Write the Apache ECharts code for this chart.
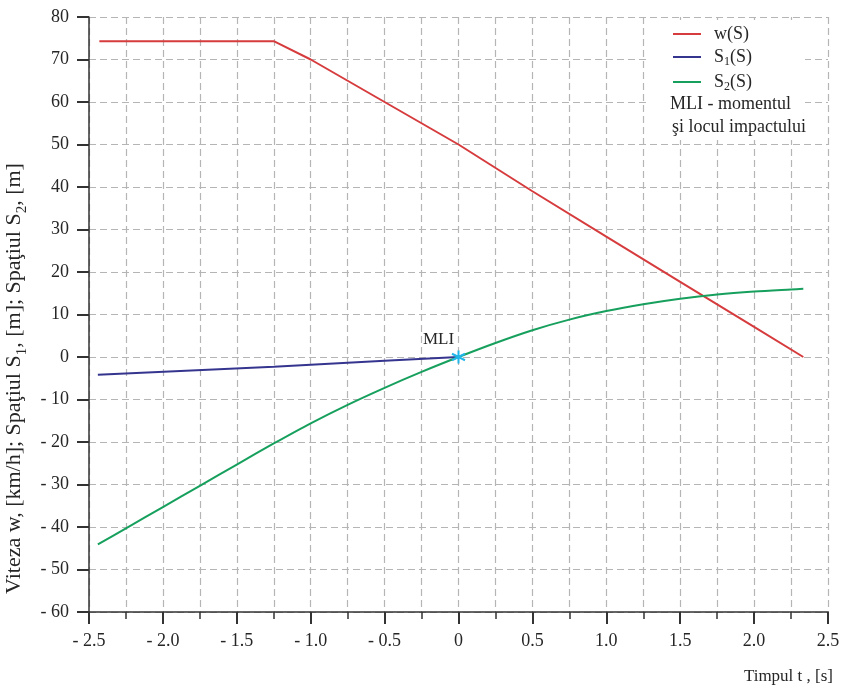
<!DOCTYPE html>
<html>
<head>
<meta charset="utf-8">
<script src="https://cdn.jsdelivr.net/npm/echarts@6/dist/echarts.min.js"></script>
<style>
  html, body { margin: 0; padding: 0; background: #fff; }
  #chart { width: 841px; height: 689px; }
</style>
</head>
<body>
<div id="chart"></div>
<script>
// Speed w(t) of the vehicle, km/h
const timeW  = [-2.43, -1.25, -1.0, -0.75, -0.5, 0.0, 0.5, 1.0, 1.5, 2.0, 2.333];
const speedW = [74.3, 74.3, 70.0, 65.0, 60.0, 50.0, 39.0, 28.3, 17.7, 7.1, 0.0];

// Distance S1(t), m
const timeS1 = [-2.44, -1.25, -0.5, 0.0];
const distS1 = [-4.2, -2.3, -0.9, 0.0];

// Distance S2(t), m
const timeS2 = [-2.44, -2.25, -2.0, -1.75, -1.5, -1.25, -1.0, -0.75, -0.5, -0.25, 0.0,
                0.25, 0.5, 0.75, 1.0, 1.25, 1.5, 1.75, 2.0, 2.25, 2.333];
const distS2 = [-44.1, -40.3, -35.3, -30.3, -25.3, -20.35, -15.6, -11.25, -7.25, -3.5, 0.0,
                3.3, 6.3, 8.8, 10.8, 12.4, 13.7, 14.7, 15.4, 15.9, 16.05];

// Moment and place of impact
const impactPoint = [0, 0];
const impactLabel = 'MLI';

const seriesNames  = ['w(S)', 'S1(S)', 'S2(S)'];
const seriesColors = ['#d63b3d', '#35358f', '#17a05d'];
const noteLines    = ['MLI - momentul', 'şi locul impactului'];
const xTitle = 'Timpul t , [s]';
const yTitle = '{n|Viteza w, [km/h]; Spaţiul S}{s|1}{n|, [m]; Spaţiul S}{s|2}{n|, [m]}';

const FONT = "'Liberation Serif', 'Times New Roman', serif";
const TXT = '#262626';
const GRID_LINE = { color: '#b5b5b5', type: [7, 4], width: 1.2 };

const pairs = (xs, ys) => xs.map((x, i) => [x, ys[i]]);

const fmtSigned = (v, digits) => {
  if (Math.abs(v) < 1e-9) return '0';
  const s = Math.abs(v).toFixed(digits);
  return v < 0 ? '- ' + s : s;
};

// rich styles for subscripts (axis title and legend)
const titleRich = {
  n: { fontSize: 22, fontFamily: FONT, color: TXT, lineHeight: 26 },
  s: { fontSize: 15, fontFamily: FONT, color: TXT, lineHeight: 15, verticalAlign: 'top', padding: [13, 0, 0, 0] }
};
const legendRich = {
  n: { fontSize: 18, fontFamily: FONT, color: TXT, lineHeight: 22 },
  s: { fontSize: 12, fontFamily: FONT, color: TXT, lineHeight: 12, verticalAlign: 'top', padding: [10, 0, 0, 0] }
};

const legendLabel = (name) => {
  const m = name.match(/^S(\d)\(S\)$/);
  return m ? '{n|S}{s|' + m[1] + '}{n|(S)}' : '{n|' + name + '}';
};

const chart = echarts.init(document.getElementById('chart'), null, { renderer: 'canvas' });

chart.setOption({
  animation: false,
  backgroundColor: '#fff',
  textStyle: { fontFamily: FONT, color: TXT },
  grid: { left: 89, right: 13, top: 17, bottom: 77, containLabel: false, outerBoundsMode: 'none' },
  xAxis: {
    type: 'value',
    min: -2.5, max: 2.5, interval: 0.5,
    name: xTitle,
    nameLocation: 'end',
    nameGap: 5,
    nameTextStyle: { fontFamily: FONT, fontSize: 17, color: TXT, align: 'right', verticalAlign: 'top', padding: [56, 0, 0, 0] },
    axisLine: { show: true, onZero: false, lineStyle: { color: '#333', width: 1.5 } },
    axisTick: { show: true, length: 12, lineStyle: { color: '#333', width: 2 } },
    minorTick: { show: true, splitNumber: 2, length: 7, lineStyle: { color: '#333', width: 1.5 } },
    axisLabel: { margin: 20, fontSize: 18, fontFamily: FONT, color: TXT, formatter: v => fmtSigned(v, 1) },
    splitLine: { show: true, lineStyle: GRID_LINE },
    minorSplitLine: { show: true, lineStyle: GRID_LINE }
  },
  yAxis: {
    type: 'value',
    min: -60, max: 80, interval: 10,
    name: yTitle,
    nameLocation: 'middle',
    nameGap: 58,
    nameRotate: 90,
    nameTextStyle: { rich: titleRich, padding: [0, 128, 0, 0] },
    axisLine: { show: true, onZero: false, lineStyle: { color: '#333', width: 1.5 } },
    axisTick: { show: true, length: 12, lineStyle: { color: '#333', width: 2 } },
    axisLabel: { margin: 20, fontSize: 18, fontFamily: FONT, color: TXT, formatter: v => fmtSigned(v, 0) },
    splitLine: { show: true, lineStyle: GRID_LINE }
  },
  legend: {
    data: seriesNames,
    orient: 'vertical',
    left: 668, top: 20, z: 60,
    itemWidth: 28, itemHeight: 2, itemGap: 3,
    icon: 'rect',
    formatter: legendLabel,
    textStyle: { rich: legendRich, padding: [0, 0, 0, 8] }
  },
  graphic: [
    { type: 'rect', z: 50, silent: true, shape: { x: 648, y: 20, width: 157, height: 120 }, style: { fill: '#fff' } },
    { type: 'text', z: 51, left: 670, top: 95, style: { text: noteLines[0], font: '18px ' + FONT, fill: TXT } },
    { type: 'text', z: 51, left: 672, top: 118, style: { text: noteLines[1], font: '18px ' + FONT, fill: TXT } }
  ],
  series: [
    { name: seriesNames[0], type: 'line', data: pairs(timeW, speedW), showSymbol: false, symbol: 'none',
      lineStyle: { color: seriesColors[0], width: 2 }, itemStyle: { color: seriesColors[0] }, z: 3 },
    { name: seriesNames[1], type: 'line', data: pairs(timeS1, distS1), showSymbol: false, symbol: 'none',
      lineStyle: { color: seriesColors[1], width: 2 }, itemStyle: { color: seriesColors[1] }, z: 3 },
    { name: seriesNames[2], type: 'line', data: pairs(timeS2, distS2), showSymbol: false, symbol: 'none', smooth: 0.3,
      lineStyle: { color: seriesColors[2], width: 2 }, itemStyle: { color: seriesColors[2] }, z: 3 },
    { name: impactLabel, type: 'scatter', data: [impactPoint], z: 6,
      symbol: 'path://M0,-10L0,10M-8.66,-5L8.66,5M-8.66,5L8.66,-5',
      symbolSize: 13,
      itemStyle: { color: 'rgba(0,0,0,0)', borderColor: '#22b5e8', borderWidth: 2, opacity: 1 },
      label: { show: true, formatter: impactLabel, position: 'top', offset: [-20, 4], fontSize: 17, fontFamily: FONT, color: TXT } }
  ]
});
</script>
</body>
</html>
